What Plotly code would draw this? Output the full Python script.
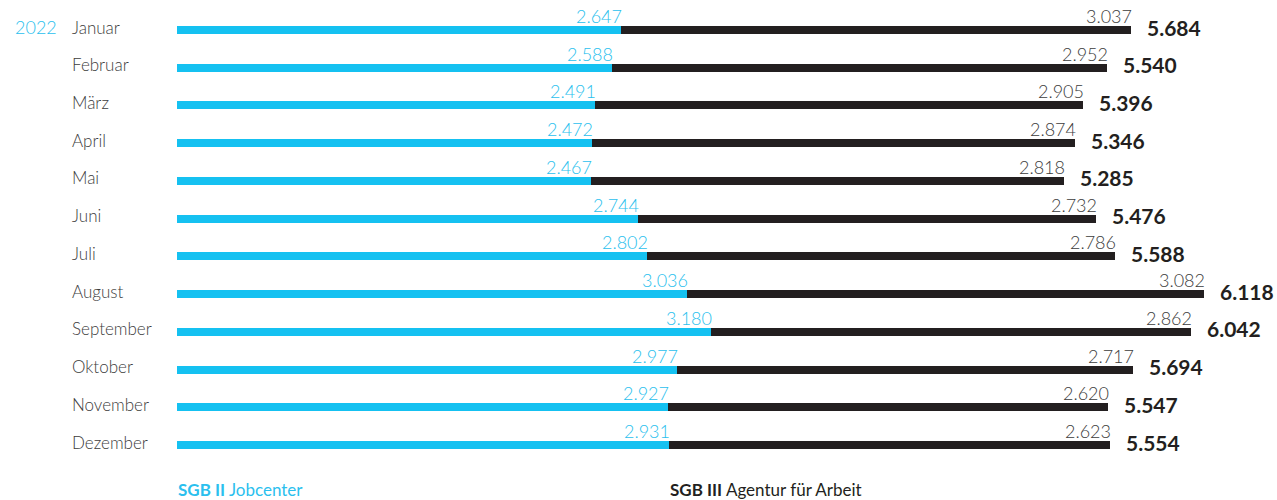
import plotly.graph_objects as go

months = ["Januar", "Februar", "März", "April", "Mai", "Juni", "Juli",
          "August", "September", "Oktober", "November", "Dezember"]
sgb2 = [2647, 2588, 2491, 2472, 2467, 2744, 2802, 3036, 3180, 2977, 2927, 2931]
sgb3 = [3037, 2952, 2905, 2874, 2818, 2732, 2786, 3082, 2862, 2717, 2620, 2623]
totals = [5684, 5540, 5396, 5346, 5285, 5476, 5588, 6118, 6042, 5694, 5547, 5554]
year = "2022"
legend2 = ("SGB II", "Jobcenter")
legend3 = ("SGB III", "Agentur für Arbeit")

def de(n):
    return f"{n:,}".replace(",", ".")

CYAN = "#15C1F1"
CYAN_TXT = "#2BBFEE"
DARK = "#231F20"
GRAY = "#3C3C3C"
FONT = "Lato"

W, H = 1277, 500
x0_px = 177
scale = 0.1679  # px per unit
y0_px = 30.0
step = 37.73

def px(xp):
    return xp / W

def py(yp):
    return 1 - yp / H

fig = go.Figure()
fig.add_trace(go.Bar(y=months, x=sgb2, orientation="h", marker_color=CYAN,
                     width=8 / step, hoverinfo="skip", marker_line_width=0))
fig.add_trace(go.Bar(y=months, x=sgb3, orientation="h", marker_color=DARK,
                     width=8 / step, hoverinfo="skip", marker_line_width=0))

ann = []
for m, a, b, t in zip(months, sgb2, sgb3, totals):
    ann.append(dict(x=a, y=m, xref="x", yref="y", text=de(a), showarrow=False,
                    xanchor="right", yanchor="bottom", yshift=1, xshift=3,
                    font=dict(family=FONT, size=18, color=CYAN_TXT, weight=300)))
    ann.append(dict(x=a + b, y=m, xref="x", yref="y", text=de(b), showarrow=False,
                    xanchor="right", yanchor="bottom", yshift=1, xshift=3,
                    font=dict(family=FONT, size=18, color=GRAY, weight=300)))
    ann.append(dict(x=t, y=m, xref="x", yref="y", text=de(t), showarrow=False,
                    xanchor="center", yanchor="middle", yshift=3, xshift=43,
                    font=dict(family=FONT, size=21, color=DARK, weight=700)))
    ann.append(dict(x=px(70), y=m, xref="paper", yref="y", text=m, showarrow=False,
                    xanchor="left", yanchor="middle", yshift=3,
                    font=dict(family=FONT, size=17, color=GRAY, weight=300)))

ann.append(dict(x=px(13), y=months[0], xref="paper", yref="y", text=year,
                showarrow=False, xanchor="left", yanchor="middle", yshift=3,
                font=dict(family=FONT, size=18, color=CYAN_TXT, weight=300)))
ann.append(dict(x=px(176), y=py(489), xref="paper", yref="paper",
                text=f"<b>{legend2[0]}</b> {legend2[1]}", showarrow=False,
                xanchor="left", yanchor="middle",
                font=dict(family=FONT, size=17, color=CYAN_TXT)))
ann.append(dict(x=px(668), y=py(489), xref="paper", yref="paper",
                text=f"<b>{legend3[0]}</b> {legend3[1]}", showarrow=False,
                xanchor="left", yanchor="middle",
                font=dict(family=FONT, size=17, color=DARK)))

xr = [-x0_px / scale, (W - x0_px) / scale]
yr = [(H - y0_px) / step, -y0_px / step]

fig.update_layout(
    width=W, height=H, barmode="stack", showlegend=False,
    margin=dict(l=0, r=0, t=0, b=0),
    paper_bgcolor="white", plot_bgcolor="white",
    xaxis=dict(range=xr, visible=False, fixedrange=True),
    yaxis=dict(range=yr, visible=False, type="category",
               categoryorder="array", categoryarray=months, fixedrange=True),
    annotations=ann,
)
fig.write_html("out.html", config={"displayModeBar": False},
               post_script="document.body.style.margin='0';document.body.style.overflow='hidden';")
